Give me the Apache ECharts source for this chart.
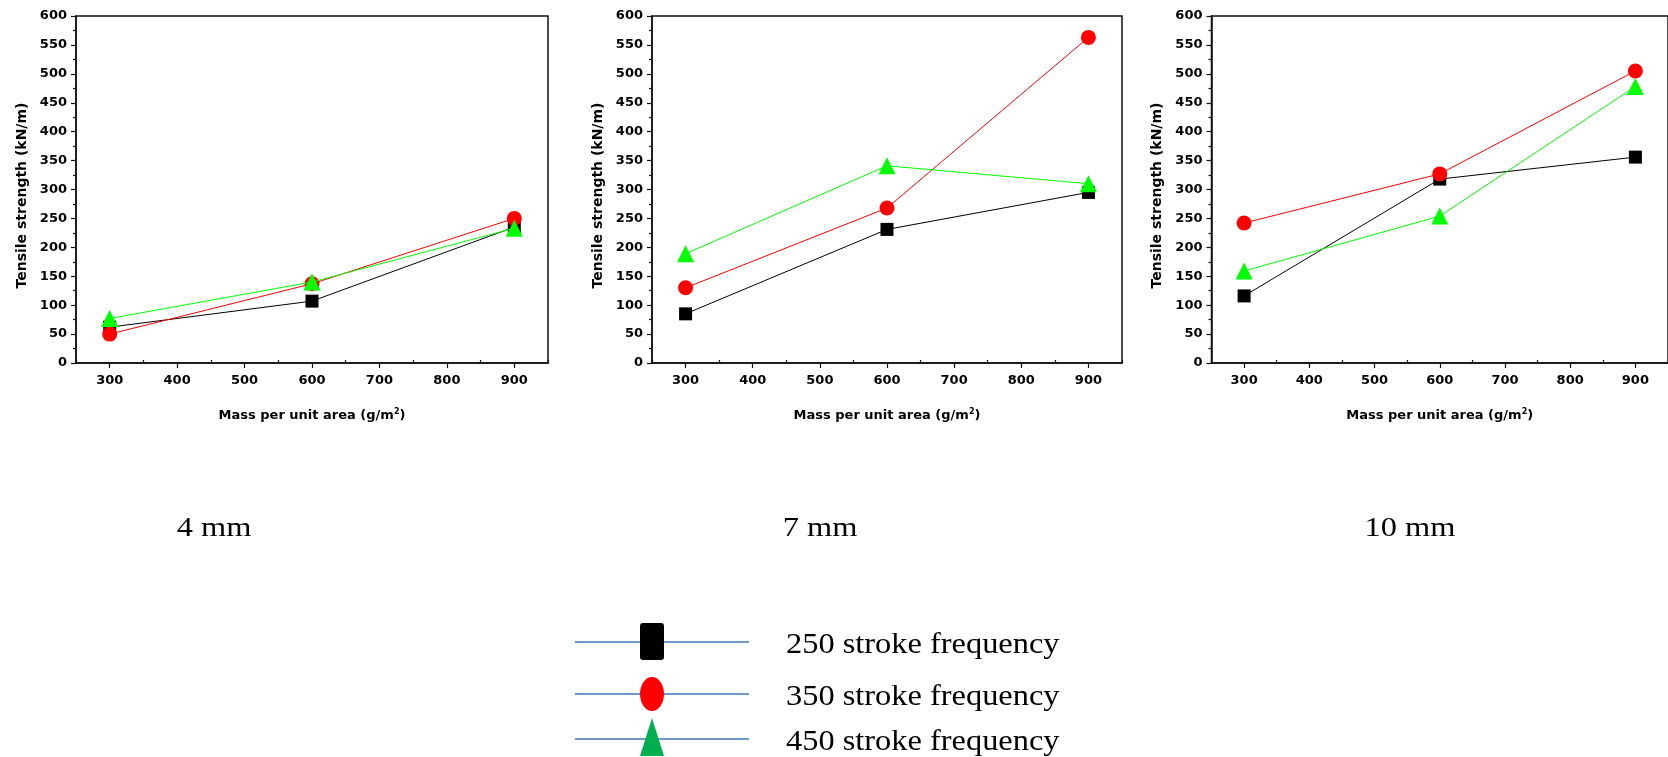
<!DOCTYPE html>
<html>
<head>
<meta charset="utf-8">
<script src="https://cdn.jsdelivr.net/npm/echarts@6/dist/echarts.min.js"></script>
<style>
  html, body { margin: 0; padding: 0; background: #fff; }
  #chart { width: 1668px; height: 757px; }
</style>
</head>
<body>
<div id="chart"></div>
<script>
// Mass per unit area (g/m2) at which each sample was tested
const massValues = [300, 600, 900];

// Tensile strength (kN/m) per needle penetration depth and stroke frequency
const strength4mm250 = [62, 107, 235];
const strength4mm350 = [50, 137, 250];
const strength4mm450 = [77, 140, 233];

const strength7mm250 = [85, 231, 295];
const strength7mm350 = [130, 268, 563];
const strength7mm450 = [189, 341, 310];

const strength10mm250 = [116, 318, 356];
const strength10mm350 = [242, 327, 505];
const strength10mm450 = [159, 254, 478];

const panelTitles = ['4 mm', '7 mm', '10 mm'];
const legendLabels = ['250 stroke frequency', '350 stroke frequency', '450 stroke frequency'];

const xMajorTicks = [300, 400, 500, 600, 700, 800, 900];
const xMinorTicks = [250, 350, 450, 550, 650, 750, 850, 950];

const panels = [
  [strength4mm250, strength4mm350, strength4mm450],
  [strength7mm250, strength7mm350, strength7mm450],
  [strength10mm250, strength10mm350, strength10mm450]
];

const seriesStyles = [
  { color: '#000000', symbol: 'rect', size: 13 },
  { color: '#ff0000', symbol: 'circle', size: 15 },
  { color: '#00ff00', symbol: 'triangle', size: 17 }
];

const gridBoxes = [
  { left: 76, top: 16, width: 472, height: 347 },
  { left: 652, top: 16, width: 470, height: 347 },
  { left: 1211.5, top: 16, width: 471, height: 347 }
];

const tickFont = { fontFamily: 'DejaVu Sans', fontWeight: 'bold', fontSize: 13, color: '#000' };
const xNameFont = { fontFamily: 'DejaVu Sans', fontWeight: 'bold', fontSize: 13, color: '#000' };
const yNameFont = { fontFamily: 'DejaVu Sans', fontWeight: 'bold', fontSize: 14, color: '#000', padding: [0, 12, 0, 0] };

const grids = [], xAxes = [], yAxes = [], series = [];

gridBoxes.forEach((box, i) => {
  grids.push(Object.assign({ show: true, borderColor: '#111', borderWidth: 1.5, backgroundColor: 'transparent' }, box));

  // main x axis: labels and major ticks
  xAxes.push({
    type: 'value', gridIndex: i, min: 250, max: 950,
    axisLine: { show: true, onZero: false, lineStyle: { color: '#111', width: 1.5 } },
    axisTick: { show: true, length: 5, customValues: xMajorTicks, lineStyle: { color: '#111', width: 1.2 } },
    axisLabel: Object.assign({ margin: 11, customValues: xMajorTicks }, tickFont),
    splitLine: { show: false },
    name: 'Mass per unit area (g/m{sup|2})',
    nameLocation: 'middle', nameGap: 45,
    nameTextStyle: Object.assign({
      rich: { sup: { fontFamily: 'DejaVu Sans', fontWeight: 'bold', fontSize: 8, color: '#000', verticalAlign: 'top', padding: [0, 0, 8, 0] } }
    }, xNameFont)
  });
  // companion x axis carrying the minor ticks
  xAxes.push({
    type: 'value', gridIndex: i, min: 250, max: 950,
    axisLine: { show: false },
    axisTick: { show: true, length: 3, customValues: xMinorTicks, lineStyle: { color: '#111', width: 1.2 } },
    axisLabel: { show: false },
    splitLine: { show: false }
  });

  yAxes.push({
    type: 'value', gridIndex: i, min: 0, max: 600, interval: 50,
    axisLine: { show: true, lineStyle: { color: '#111', width: 1.5 } },
    axisTick: { show: true, length: 5, lineStyle: { color: '#111', width: 1.2 } },
    minorTick: { show: true, splitNumber: 2, length: 3, lineStyle: { color: '#111', width: 1.2 } },
    axisLabel: Object.assign({ margin: 9 }, tickFont),
    splitLine: { show: false },
    name: 'Tensile strength (kN/m)',
    nameLocation: 'middle', nameGap: 47,
    nameTextStyle: yNameFont
  });

  panels[i].forEach((values, k) => {
    const st = seriesStyles[k];
    series.push({
      type: 'line',
      name: legendLabels[k],
      xAxisIndex: i * 2, yAxisIndex: i,
      data: massValues.map((m, j) => [m, values[j]]),
      symbol: st.symbol, symbolSize: st.size,
      itemStyle: { color: st.color },
      lineStyle: { color: st.color, width: 1 },
      z: 2 + k,
      animation: false
    });
  });
});

// panel captions and the shared legend
const graphics = [];
const titleCenters = [214, 820, 1410];
panelTitles.forEach((t, i) => {
  graphics.push({
    type: 'text', x: titleCenters[i], y: 529, scaleX: 1.2,
    style: { text: t, fill: '#000', font: '27px "Liberation Serif"', textAlign: 'center', textVerticalAlign: 'middle' }
  });
});

const legendRows = [642, 694, 739];
legendRows.forEach((y, k) => {
  graphics.push({ type: 'line', shape: { x1: 575, y1: y, x2: 749, y2: y }, style: { stroke: '#3f74b8', lineWidth: 1.5 }, z: 1 });
  graphics.push({ type: 'text', x: 786, y: y + 3, scaleX: 1.08, style: { text: legendLabels[k], fill: '#000', font: '30px "Liberation Serif"', textVerticalAlign: 'middle' }, z: 3 });
});
graphics.push({ type: 'rect', shape: { x: 640, y: legendRows[0] - 19, width: 24, height: 37, r: 3 }, style: { fill: '#000' }, z: 2 });
graphics.push({ type: 'ellipse', shape: { cx: 652, cy: legendRows[1], rx: 12, ry: 17 }, style: { fill: '#ff0000' }, z: 2 });
graphics.push({ type: 'polygon', shape: { points: [[652, 718], [640, 756], [664, 756]] }, style: { fill: '#00b050' }, z: 2 });

const chart = echarts.init(document.getElementById('chart'), null, { renderer: 'canvas' });
chart.setOption({
  animation: false,
  backgroundColor: '#ffffff',
  grid: grids,
  xAxis: xAxes,
  yAxis: yAxes,
  series: series,
  graphic: graphics
});
</script>
</body>
</html>
